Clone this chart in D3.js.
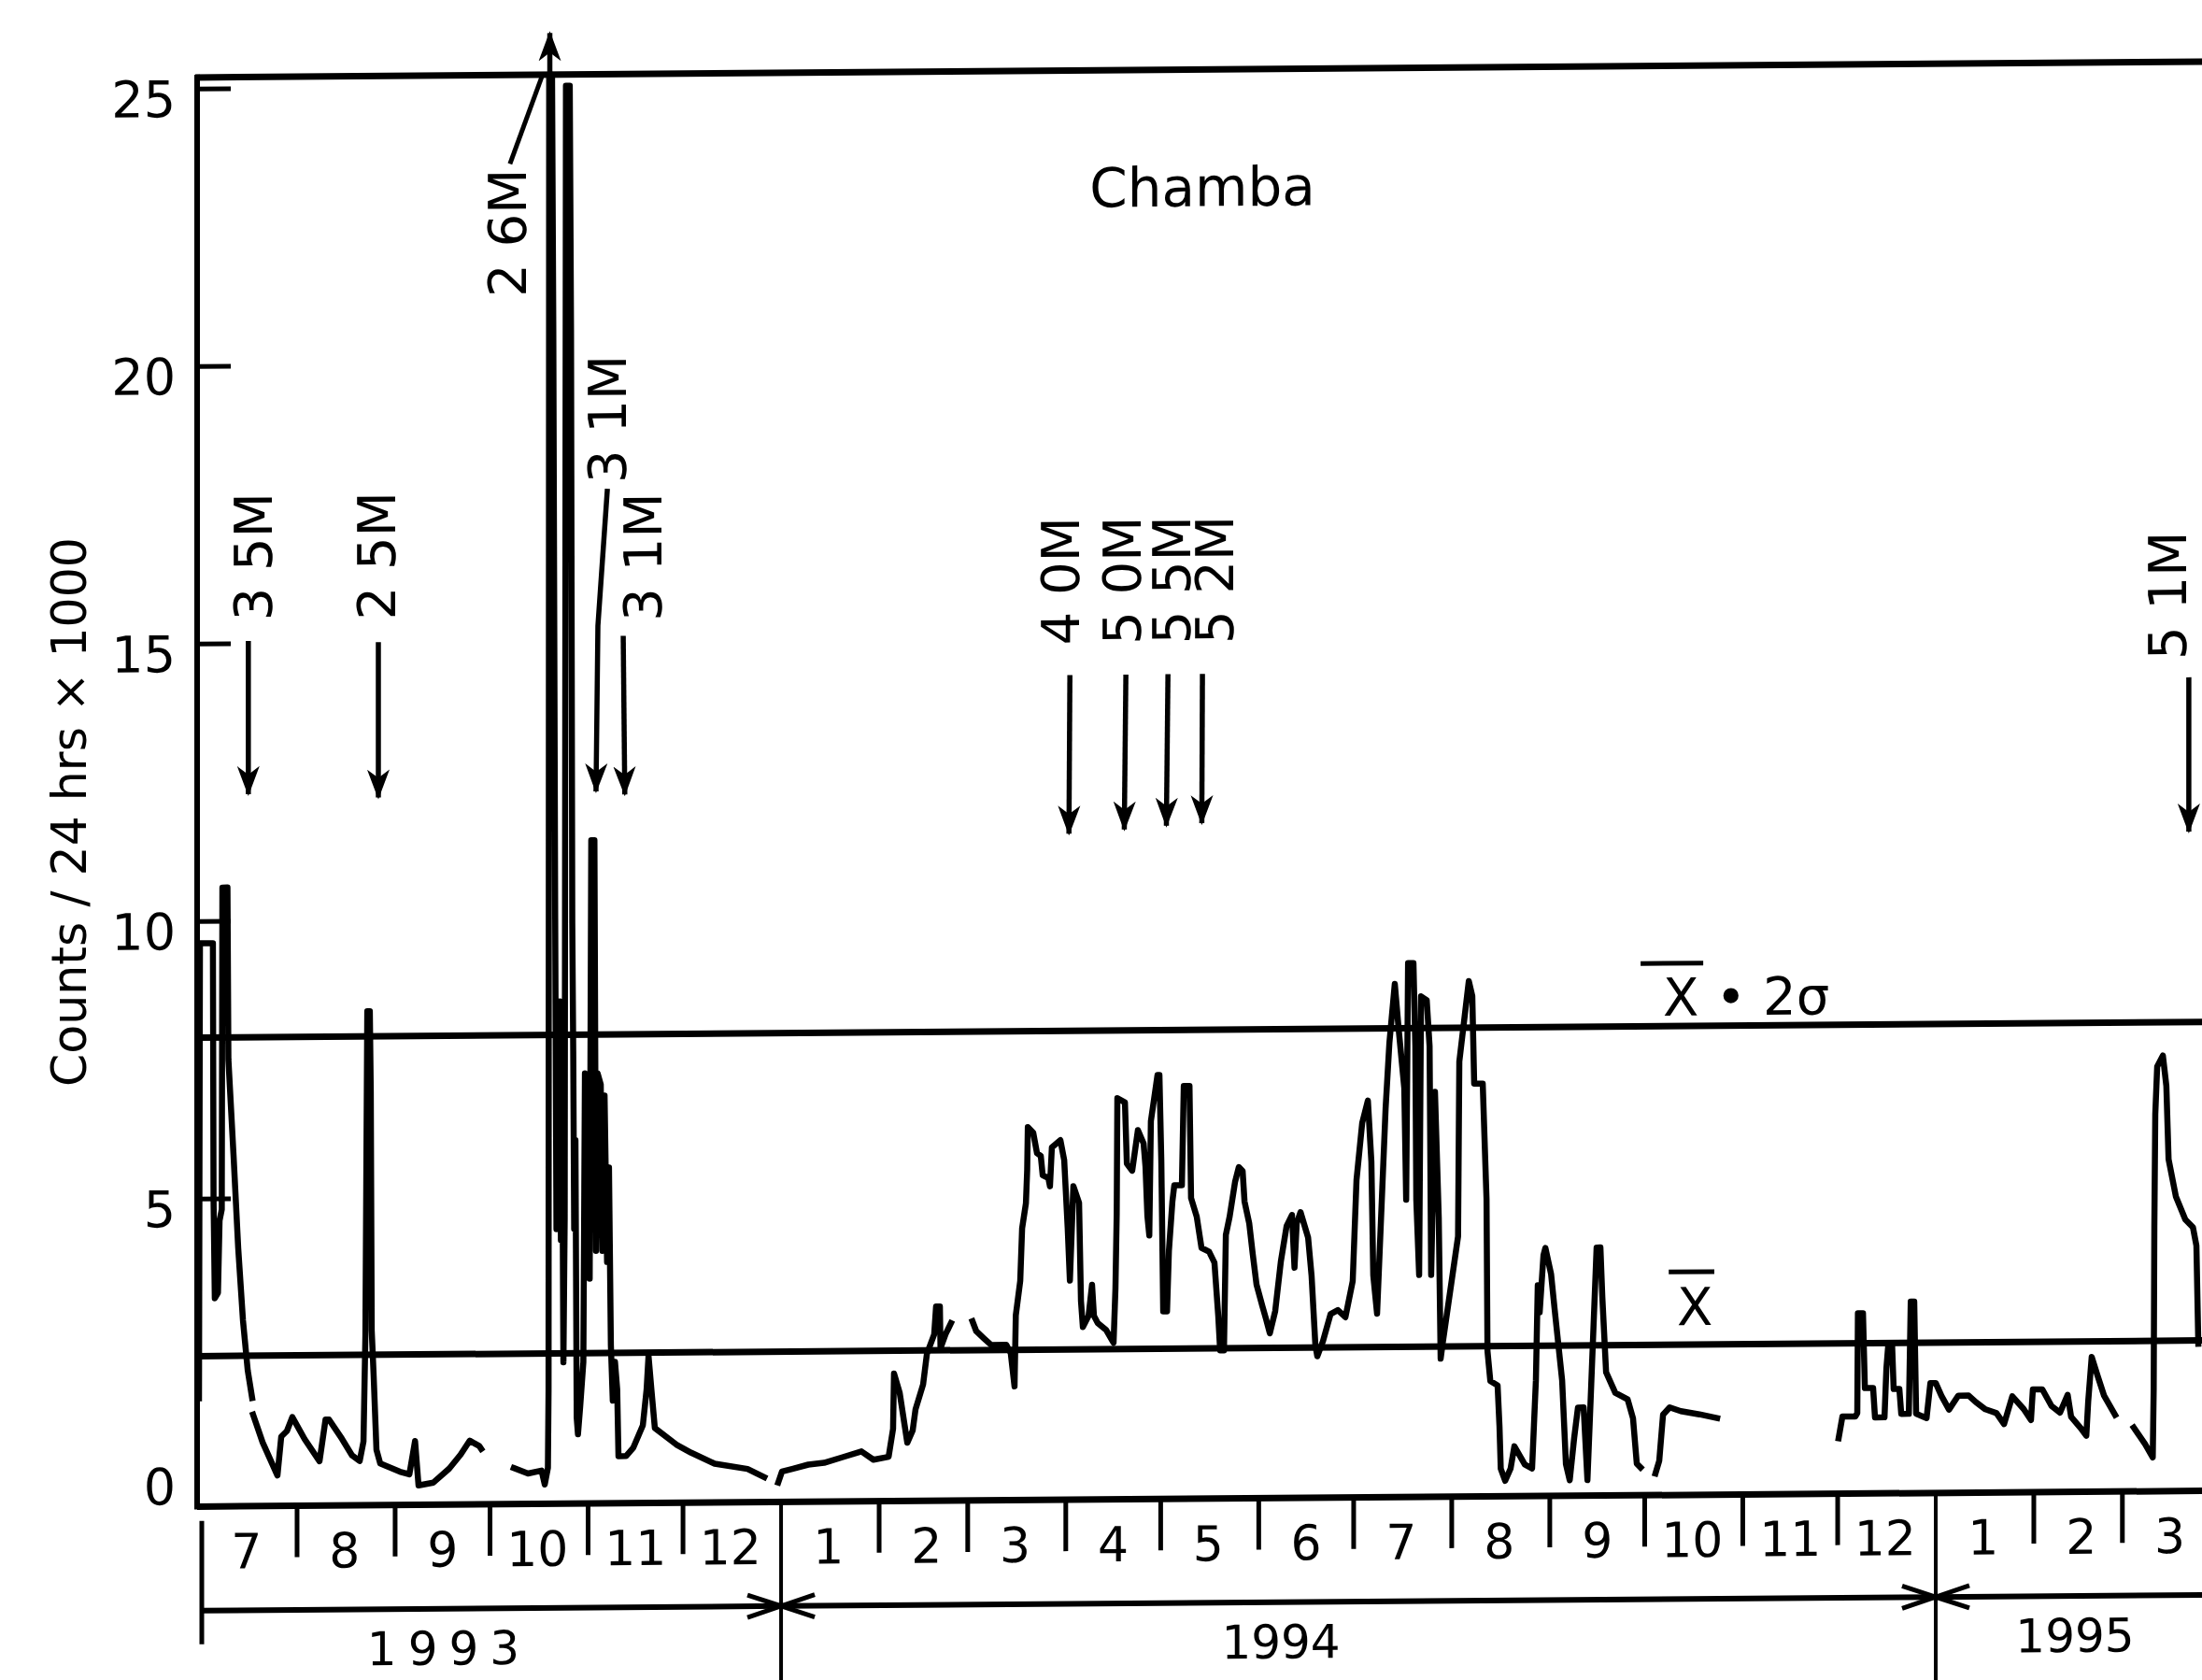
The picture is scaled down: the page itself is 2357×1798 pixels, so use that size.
<!DOCTYPE html>
<html>
<head>
<meta charset="utf-8">
<script src="https://cdn.jsdelivr.net/npm/d3@7"></script>
<style>
  html, body { margin: 0; padding: 0; background: #fff; }
  svg { display: block; background: #fff; }
  text { font-family: "DejaVu Sans", sans-serif; fill: #000; }
</style>
</head>
<body>
<svg id="chart" width="2357" height="1798"></svg>
<script>
// days counted from 1 July 1993, values in counts / 24 hrs x 1000
const segJul93 = [[0, 1.4], [0.3, 9.6], [4.4, 9.6], [4.6, 5.0], [5.0, 3.2], [6.0, 3.3], [6.5, 4.6], [7.2, 4.8], [7.4, 10.6], [9.0, 10.6], [9.3, 7.5], [10.9, 5.8], [12.4, 4.1], [13.9, 2.8], [15.4, 1.9], [16.8, 1.4]];
const segAug93 = [[17.1, 1.1], [20.1, 0.6], [24.8, 0.0], [26.0, 0.7], [27.8, 0.8], [29.5, 1.05], [33.4, 0.65], [38.1, 0.25], [40.0, 1.0], [41.1, 1.0], [45.2, 0.65], [48.4, 0.35], [50.8, 0.25], [52.0, 0.6], [52.6, 2.5], [53.2, 8.35], [54.0, 8.35], [54.3, 6.9], [54.6, 2.6], [55.2, 1.8], [56.1, 0.45], [57.3, 0.2], [63.5, 0.05], [66.5, 0.0], [68.3, 0.6], [69.4, -0.2], [74.1, -0.15], [79.1, 0.1], [82.7, 0.35], [85.6, 0.6], [88.6, 0.5], [89.2, 0.45]];
const segOct93 = [[99.5, 0.1], [104, 0.0], [108.3, 0.05], [109.3, -0.2], [110.3, 0.1], [110.5, 1.5], [110.7, 25.2], [111.6, 25.2], [112.0, 20.6], [112.6, 10.0], [113.0, 4.4], [113.4, 7.8], [113.8, 5.0], [114.1, 8.5], [114.4, 4.2], [114.8, 6.5], [115.2, 2.0], [115.6, 4.6], [116.0, 25.0], [117.2, 25.0], [117.6, 20.6], [118.0, 9.9], [118.3, 7.6], [118.6, 4.4], [119.0, 6.0], [119.4, 1.0], [119.8, 0.7], [120.5, 1.2], [121.5, 2.0], [122.0, 7.2], [123.0, 6.5], [123.5, 3.5], [124.0, 11.4], [125.0, 11.4], [125.5, 4.0], [126.0, 7.2], [127.0, 7.0], [127.5, 4.0], [128.2, 6.8], [129.0, 3.8], [129.6, 5.5], [130.2, 2.3], [130.8, 1.3], [131.5, 2.0], [132.2, 1.5], [132.6, 0.3], [135.0, 0.3], [137.3, 0.45], [140.3, 0.85], [141.5, 1.5], [142.1, 2.1], [143.0, 1.5], [144.1, 0.8], [150.9, 0.5], [155.6, 0.35], [163.0, 0.15], [173.4, 0.05], [178.7, -0.1]];
const segJan94 = [[183.1, -0.2], [184.3, 0.0], [187.8, 0.05], [192.6, 0.12], [197.6, 0.15], [203.5, 0.25], [209.4, 0.35], [213.2, 0.2], [218.0, 0.25], [219.4, 0.75], [219.7, 1.75], [221.5, 1.4], [223.9, 0.5], [225.6, 0.72], [226.5, 1.1], [228.9, 1.55], [230.1, 2.1], [232.4, 2.45], [233.0, 2.95], [234.2, 2.95], [234.4, 2.2], [236.0, 2.45], [237.7, 2.65]];
const segFeb94 = [[244.5, 2.68], [245.7, 2.5], [248.1, 2.37], [250.4, 2.25], [255.2, 2.25], [256.6, 2.1], [257.8, 1.5], [258.2, 2.78], [259.6, 3.4], [260.2, 4.35], [261.4, 4.8], [261.8, 5.4], [262.0, 6.17], [263.7, 6.07], [264.9, 5.7], [266.1, 5.65], [266.7, 5.3], [268.5, 5.25], [269.0, 5.1], [269.6, 5.8], [272.3, 5.93], [273.5, 5.57], [274.6, 4.35], [275.3, 3.4], [276.4, 5.1], [278.2, 4.8], [278.8, 3.03], [279.4, 2.56], [281.2, 2.76], [282.3, 3.32], [282.9, 2.76], [284.1, 2.63], [286.8, 2.5], [289.1, 2.27], [289.7, 3.25], [290.1, 4.6], [290.3, 6.68], [292.7, 6.6], [293.3, 5.5], [295.0, 5.37], [296.8, 6.1], [298.6, 5.86], [299.2, 5.44], [299.8, 4.55], [300.4, 4.2], [300.9, 6.26], [303.0, 7.09], [303.6, 7.09], [304.2, 5.54], [304.8, 2.83], [306.0, 2.83], [306.6, 3.92], [307.7, 4.81], [308.3, 5.1], [310.7, 5.1], [311.3, 6.89], [313.1, 6.89], [313.6, 4.87], [315.4, 4.53], [316.9, 3.97], [319.3, 3.9], [321.0, 3.7], [322.2, 2.74], [322.8, 2.12], [324.0, 2.12], [324.6, 4.2], [325.8, 4.53], [327.5, 5.15], [328.7, 5.42], [329.9, 5.35], [330.5, 4.8], [332.0, 4.4], [333.1, 3.85], [334.3, 3.3], [336.1, 2.92], [337.3, 2.68], [338.5, 2.42], [340.2, 2.82], [342.0, 3.72], [343.8, 4.35], [345.5, 4.55], [346.3, 3.6], [347.0, 4.4], [348.2, 4.6], [350.6, 4.14], [351.7, 3.45], [352.9, 2.2], [353.5, 2.0], [355.3, 2.27], [357.7, 2.76], [360.0, 2.83], [362.4, 2.7],
  [364.7, 3.35], [365.9, 5.17], [367.7, 6.2], [369.5, 6.6], [370.6, 5.5], [371.2, 3.45], [372.4, 2.76], [373.9, 4.81], [375.1, 6.46], [376.3, 7.64], [378.0, 8.7], [379.2, 7.9], [381.0, 6.82], [381.6, 4.81], [382.2, 9.07], [383.9, 9.07], [384.5, 7.57], [384.8, 4.81], [385.7, 3.45], [386.3, 8.47], [388.1, 8.4], [389.0, 7.57], [389.5, 3.45], [390.7, 6.75], [391.9, 4.48], [392.5, 1.94], [393.1, 2.2], [398.0, 4.14], [398.4, 7.29], [401.4, 8.74], [402.5, 8.47], [403.1, 6.89], [405.8, 6.89], [407.0, 4.81], [407.3, 2.07], [408.2, 1.53], [410.5, 1.45], [411.1, 0.71], [411.5, -0.05], [412.9, -0.27], [414.6, -0.05], [415.8, 0.35], [419.1, 0.02], [421.4, -0.05], [422.6, 1.53], [423.2, 3.25], [423.8, 2.76], [425.0, 3.79], [425.6, 3.92], [427.4, 3.45], [428.5, 2.83], [430.9, 1.53], [432.1, 0.02], [433.3, -0.27], [434.7, 0.49], [435.9, 1.04], [437.7, 1.04], [438.9, -0.27], [440.1, 1.45], [441.8, 3.92], [443.0, 3.92], [443.6, 3.03], [444.8, 1.67], [447.7, 1.3], [451.6, 1.18], [453.3, 0.84], [454.5, 0.02], [455.7, -0.05]];
const segOct94 = [[460.4, -0.16], [461.6, 0.07], [462.8, 0.9], [464.9, 1.03], [468.4, 0.96], [474.3, 0.9], [479.9, 0.83]];
const segDec94 = [[518.3, 0.45], [519.5, 0.84], [523.6, 0.84], [524.2, 0.9], [524.4, 2.7], [526.0, 2.7], [526.6, 1.35], [529.2, 1.35], [529.8, 0.82], [532.8, 0.82], [533.4, 1.7], [534.0, 2.13], [535.2, 2.13], [535.7, 1.33], [537.5, 1.33], [538.1, 0.88], [540.5, 0.88], [541.1, 2.9], [542.2, 2.9], [542.8, 0.88], [546.1, 0.8], [547.3, 1.43], [549.0, 1.43], [550.8, 1.2], [553.2, 0.95], [556.1, 1.2], [559.4, 1.2], [561.7, 1.08], [564.7, 0.95], [568.2, 0.88], [570.6, 0.68], [573.2, 1.18], [576.8, 0.95], [579.1, 0.75], [579.7, 1.3], [582.7, 1.3], [585.6, 1.0], [588.3, 0.88], [590.7, 1.2], [591.8, 0.8], [594.8, 0.6], [596.6, 0.46], [597.2, 1.08], [598.3, 1.88], [600.1, 1.55], [602.2, 1.18], [605.7, 0.83]];
const segMar95 = [[611.6, 0.6], [615.2, 0.3], [617.6, 0.06], [617.9, 1.3], [618.1, 4.2], [618.4, 6.25], [619.0, 7.1], [620.8, 7.3], [621.9, 6.75], [622.3, 6.0], [622.6, 5.43], [624.9, 4.76], [627.9, 4.34], [630.3, 4.2], [631.4, 3.87], [632.0, 2.1]];
const segments = [segJul93, segAug93, segOct93, segJan94, segFeb94, segOct94, segDec94, segMar95];

const yTicks = [0, 5, 10, 15, 20, 25];
const mean = 2.16;
const meanPlus2Sigma = 7.9;
const frameTop = 25.2;
const frameBottom = -0.55;

// earthquakes: label, label foot [day, value], arrow path [day, value]...
const quakeLabels = ["3 5M", "2 5M", "2 6M", "3 1M", "3 1M", "4 0M", "5 0M", "5 5M", "5 2M", "5 1M"];
const quakeLabelAt = [[17.1, 15.4], [56.2, 15.4], [97.5, 21.2], [129.1, 17.83], [140.3, 15.34], [272.3, 14.85], [291.8, 14.85], [307.4, 14.85], [321.0, 14.85], [622.3, 14.43]];
const quakeArrows = [
  [[15.6, 15.04], [15.6, 12.28]],
  [[56.7, 15.0], [56.7, 12.2]],
  null,
  [[129.1, 17.73], [126.1, 15.26], [125.5, 12.28]],
  [[134.1, 15.08], [134.6, 12.22]],
  [[275.3, 14.31], [275.0, 11.45]],
  [[293.0, 14.31], [292.5, 11.52]],
  [[306.3, 14.31], [305.8, 11.58]],
  [[317.2, 14.31], [317.0, 11.62]],
  [[629.0, 14.11], [629.0, 11.33]]
];
const leader26 = [[98.3, 23.6], [108.6, 25.2]];
const offScale = [[110.9, 25.1], [110.9, 25.95]];

const years = ["1993", "1994", "1995"];
const yearStarts = [new Date(1993, 6, 1), new Date(1994, 0, 1), new Date(1995, 0, 1)];
const yearLabelDay = [79, 342, 593];

const W = 2357, H = 1798;
const t0 = new Date(1993, 6, 1).getTime();
const x = d3.scaleTime().domain([new Date(1993, 6, 1), new Date(1995, 0, 1)]).range([213, 2072]);
const y = d3.scaleLinear().domain([0, 25]).range([1572, 87]);
const xd = d => x(new Date(t0 + d * 864e5));

const svg = d3.select("#chart");

// the scanned figure is slightly tilted, right side higher
const g = svg.append("g").attr("transform", `translate(0, ${(Math.tan(0.45 * Math.PI / 180) * 1200).toFixed(2)}) skewY(-0.45)`);

const defs = svg.append("defs");
defs.append("marker").attr("id", "head").attr("markerUnits", "userSpaceOnUse")
  .attr("viewBox", "0 0 32 26").attr("refX", 30).attr("refY", 13)
  .attr("markerWidth", 32).attr("markerHeight", 26).attr("orient", "auto")
  .append("path").attr("d", "M0,1 L32,13 L0,25 L9,13 Z").attr("fill", "#000");
defs.append("marker").attr("id", "yearHead").attr("markerUnits", "userSpaceOnUse")
  .attr("viewBox", "0 0 40 30").attr("refX", 38).attr("refY", 15)
  .attr("markerWidth", 40).attr("markerHeight", 30).attr("orient", "auto-start-reverse")
  .append("path").attr("d", "M2,3 L38,15 L2,27").attr("fill", "none").attr("stroke", "#000").attr("stroke-width", 5);

const yTop = y(frameTop), yBot = y(frameBottom), xAxis0 = 211;

// frame
g.append("line").attr("x1", xAxis0 - 2).attr("x2", W + 20).attr("y1", yTop).attr("y2", yTop).attr("stroke", "#000").attr("stroke-width", 7);
g.append("line").attr("x1", xAxis0).attr("x2", xAxis0).attr("y1", yTop - 3).attr("y2", yBot + 3).attr("stroke", "#000").attr("stroke-width", 6);
g.append("line").attr("x1", xAxis0).attr("x2", W + 20).attr("y1", yBot).attr("y2", yBot).attr("stroke", "#000").attr("stroke-width", 7);

// y axis ticks and labels
const yAxis = d3.axisLeft(y).tickValues(yTicks).tickSizeInner(-36).tickSizeOuter(0).tickPadding(23);
const ya = g.append("g").attr("transform", `translate(${xAxis0},0)`).call(yAxis);
ya.select(".domain").remove();
ya.selectAll(".tick line").attr("stroke", "#000").attr("stroke-width", 5).filter(d => d === 0).remove();
ya.selectAll(".tick text").attr("font-size", 54).attr("font-family", "DejaVu Sans").attr("dy", "0.55em").attr("fill", "#000");

// mean and mean + 2 sigma
[mean, meanPlus2Sigma].forEach(v => {
  g.append("line").attr("x1", xAxis0).attr("x2", W + 20).attr("y1", y(v)).attr("y2", y(v))
    .attr("stroke", "#000").attr("stroke-width", 7);
});

// data
const line = d3.line().x(d => xd(d[0])).y(d => y(d[1]));
g.selectAll(".seg").data(segments).enter().append("path").attr("class", "seg")
  .attr("d", line).attr("fill", "none").attr("stroke", "#000").attr("stroke-width", 6.5)
  .attr("stroke-linejoin", "round").attr("stroke-linecap", "square");

// earthquake arrows
quakeArrows.forEach(a => {
  if (!a) return;
  g.append("path").attr("d", line(a)).attr("fill", "none").attr("stroke", "#000")
    .attr("stroke-width", 5.5).attr("marker-end", "url(#head)");
});
g.append("path").attr("d", line(leader26)).attr("fill", "none").attr("stroke", "#000").attr("stroke-width", 5);
g.append("path").attr("d", line(offScale)).attr("fill", "none").attr("stroke", "#000")
  .attr("stroke-width", 5.5).attr("marker-end", "url(#head)");

quakeLabels.forEach((t, i) => {
  const [d, v] = quakeLabelAt[i];
  g.append("text").attr("transform", `translate(${xd(d)},${y(v)}) rotate(-90)`)
    .attr("dy", "0.36em").attr("font-size", 56).attr("text-anchor", "start").text(t);
});

// labels inside the plot
g.append("text").attr("x", xd(281.5)).attr("y", y(22.74)).attr("font-size", 58).text("Chamba");

g.append("text").attr("x", xd(462.8)).attr("y", y(8.09)).attr("font-size", 56).text("X • 2σ");
g.append("line").attr("x1", xd(455.7)).attr("x2", xd(475.5)).attr("y1", y(9.03)).attr("y2", y(9.03))
  .attr("stroke", "#000").attr("stroke-width", 5);
g.append("text").attr("x", xd(467.2)).attr("y", y(2.51)).attr("font-size", 56).text("X");
g.append("line").attr("x1", xd(464.6)).attr("x2", xd(479.0)).attr("y1", y(3.47)).attr("y2", y(3.47))
  .attr("stroke", "#000").attr("stroke-width", 5);

// month row
const months = d3.timeMonth.range(new Date(1993, 6, 1), new Date(1995, 3, 1));
const isYearStart = m => m.getMonth() === 0 || +m === +yearStarts[0];
g.selectAll(".mtick").data(months.filter(m => !isYearStart(m))).enter().append("line")
  .attr("x1", d => x(d)).attr("x2", d => x(d)).attr("y1", yBot).attr("y2", yBot + 55)
  .attr("stroke", "#000").attr("stroke-width", 5);
g.selectAll(".mlab").data(months).enter().append("text")
  .attr("x", d => x(d3.timeDay.offset(d, 15))).attr("y", 1671)
  .attr("text-anchor", "middle").attr("font-size", 52).text(d => d.getMonth() + 1);

// year separators, arrows and labels
g.append("line").attr("x1", x(yearStarts[0]) + 3).attr("x2", x(yearStarts[0]) + 3).attr("y1", 1620).attr("y2", 1752)
  .attr("stroke", "#000").attr("stroke-width", 5);
[yearStarts[1], yearStarts[2]].forEach(d => {
  g.append("line").attr("x1", x(d)).attr("x2", x(d)).attr("y1", yBot).attr("y2", H + 20)
    .attr("stroke", "#000").attr("stroke-width", 4);
});
const yearY = 1716;
g.append("line").attr("x1", x(yearStarts[0]) + 3).attr("x2", x(yearStarts[1])).attr("y1", yearY).attr("y2", yearY)
  .attr("stroke", "#000").attr("stroke-width", 6).attr("marker-end", "url(#yearHead)");
g.append("line").attr("x1", x(yearStarts[1])).attr("x2", x(yearStarts[2])).attr("y1", yearY).attr("y2", yearY)
  .attr("stroke", "#000").attr("stroke-width", 6).attr("marker-start", "url(#yearHead)").attr("marker-end", "url(#yearHead)");
g.append("line").attr("x1", x(yearStarts[2])).attr("x2", W + 20).attr("y1", yearY).attr("y2", yearY)
  .attr("stroke", "#000").attr("stroke-width", 6).attr("marker-start", "url(#yearHead)");
years.forEach((t, i) => {
  g.append("text").attr("x", xd(yearLabelDay[i])).attr("y", 1776).attr("text-anchor", "middle")
    .attr("font-size", 50).attr("letter-spacing", i === 0 ? 12 : 0).text(t);
});

// y axis title
svg.append("text").attr("transform", "translate(73,869) rotate(-90)").attr("dy", "0.36em")
  .attr("text-anchor", "middle").attr("font-size", 52).attr("textLength", 588)
  .attr("lengthAdjust", "spacingAndGlyphs").text("Counts / 24 hrs × 1000");
</script>
</body>
</html>
